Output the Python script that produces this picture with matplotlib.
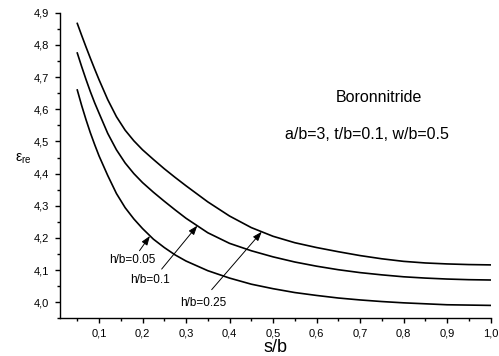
import numpy as np
import matplotlib
matplotlib.use("Agg")
import matplotlib.pyplot as plt
from matplotlib.ticker import MultipleLocator, FuncFormatter

plt.rcParams['font.family'] = ['Liberation Sans', 'DejaVu Sans']
plt.rcParams['mathtext.fontset'] = 'custom'
plt.rcParams['mathtext.rm'] = 'Liberation Sans'
plt.rcParams['mathtext.it'] = 'Liberation Sans'

# values
s_b = [0.05, 0.06, 0.07, 0.08, 0.09, 0.10, 0.12, 0.14, 0.16, 0.18, 0.20,
       0.225, 0.25, 0.275, 0.30, 0.35, 0.40, 0.45, 0.50, 0.55, 0.60,
       0.65, 0.70, 0.75, 0.80, 0.85, 0.90, 0.95, 1.00]
eps_h025 = [4.867, 4.830, 4.794, 4.759, 4.725, 4.692, 4.630, 4.577, 4.535, 4.502, 4.474,
            4.444, 4.415, 4.388, 4.362, 4.312, 4.268, 4.232, 4.205, 4.185, 4.170,
            4.157, 4.145, 4.135, 4.127, 4.122, 4.119, 4.117, 4.116]
eps_h010 = [4.775, 4.733, 4.693, 4.655, 4.620, 4.588, 4.525, 4.474, 4.433, 4.400, 4.372,
            4.342, 4.314, 4.287, 4.261, 4.216, 4.183, 4.160, 4.141, 4.125, 4.112,
            4.101, 4.092, 4.085, 4.079, 4.075, 4.072, 4.070, 4.069]
eps_h005 = [4.660, 4.612, 4.568, 4.527, 4.490, 4.455, 4.394, 4.338, 4.294, 4.259, 4.229,
            4.196, 4.170, 4.147, 4.128, 4.098, 4.075, 4.056, 4.042, 4.030, 4.021,
            4.013, 4.007, 4.002, 3.998, 3.995, 3.992, 3.991, 3.990]

labels = ['h/b=0.05', 'h/b=0.1', 'h/b=0.25']
label_xy = [(0.177, 4.132), (0.218, 4.070), (0.340, 3.998)]
arrow_tail = [(0.193, 4.160), (0.244, 4.103), (0.359, 4.039)]
arrow_tip = [(0.217, 4.206), (0.326, 4.238), (0.474, 4.219)]

fig = plt.figure(figsize=(4.99, 3.56), dpi=100)
ax = fig.add_axes([0.120, 0.106, 0.863, 0.858])

for eps in (eps_h025, eps_h010, eps_h005):
    ax.plot(s_b, eps, color='black', lw=1.2)

for lab, xy, tail, tip in zip(labels, label_xy, arrow_tail, arrow_tip):
    ax.text(xy[0], xy[1], lab, ha='center', va='center', fontsize=8.5)
    ax.annotate('', xy=tip, xytext=tail,
                arrowprops=dict(arrowstyle='-|>,head_length=0.55,head_width=0.2',
                                color='black', lw=0.7, shrinkA=0, shrinkB=0))

ax.text(0.743, 4.636, 'Boronnitride', ha='center', va='center', fontsize=11.5)
ax.text(0.715, 4.523, 'a/b=3, t/b=0.1, w/b=0.5', ha='center', va='center', fontsize=11.5)

ax.set_xlim(0.01, 1.0)
ax.set_ylim(3.95, 4.9)
ax.spines['top'].set_visible(False)
ax.spines['right'].set_visible(False)
ax.spines['left'].set_linewidth(1.0)
ax.spines['bottom'].set_linewidth(1.0)

ax.xaxis.set_major_locator(MultipleLocator(0.1))
ax.xaxis.set_minor_locator(MultipleLocator(0.05))
ax.yaxis.set_major_locator(MultipleLocator(0.1))
ax.yaxis.set_minor_locator(MultipleLocator(0.05))
comma = FuncFormatter(lambda v, p: f'{v:.1f}'.replace('.', ','))
ax.xaxis.set_major_formatter(comma)
ax.yaxis.set_major_formatter(comma)
ax.tick_params(which='major', direction='out', length=3.6, width=1.0, labelsize=8, pad=4)
ax.tick_params(which='minor', direction='out', length=2.2, width=1.0)

ax.set_xlabel('s/b', fontsize=13, labelpad=0)
ax.set_ylabel(r'$\mathregular{ε_{re}}$', fontsize=10, rotation=0, labelpad=8)
ax.yaxis.set_label_coords(-0.085, 0.50)

fig.savefig('out.png', dpi=100)
